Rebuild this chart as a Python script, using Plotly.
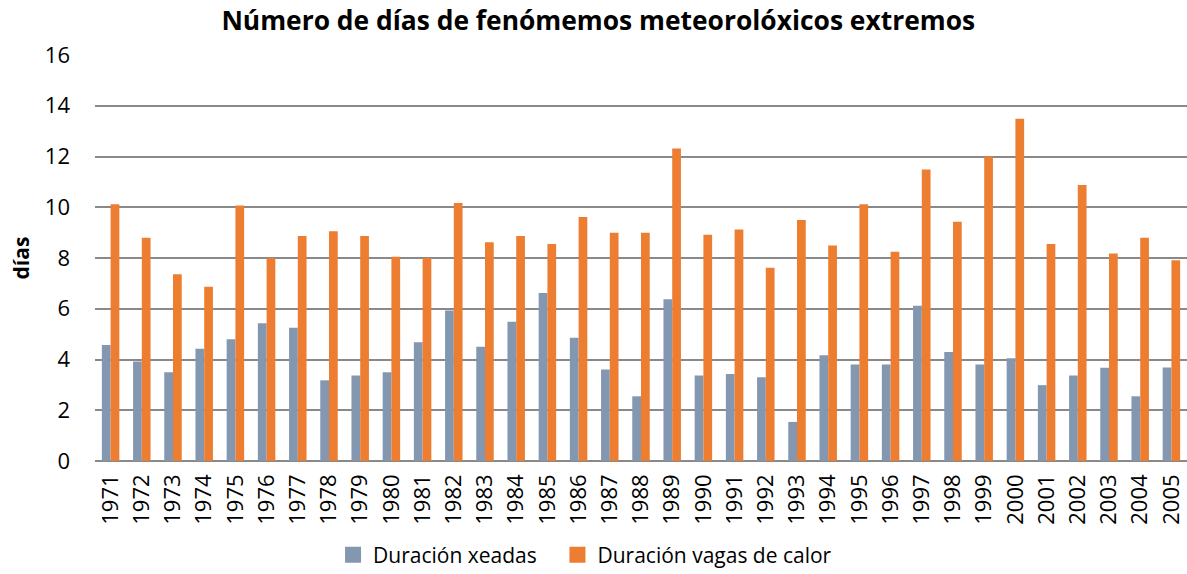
import plotly.graph_objects as go

years = [str(y) for y in range(1971, 2006)]
xeadas = [4.57, 3.92, 3.50, 4.42, 4.80, 5.43, 5.25, 3.18, 3.37, 3.50,
          4.68, 5.93, 4.50, 5.49, 6.62, 4.86, 3.61, 2.55, 6.37, 3.37,
          3.43, 3.30, 1.54, 4.17, 3.80, 3.80, 6.12, 4.30, 3.80, 4.05,
          2.99, 3.37, 3.67, 2.55, 3.68]
vagas = [10.12, 8.80, 7.36, 6.87, 10.07, 8.00, 8.87, 9.05, 8.87, 8.05,
         8.00, 10.17, 8.62, 8.87, 8.55, 9.62, 9.00, 9.00, 12.32, 8.92,
         9.12, 7.62, 9.50, 8.49, 10.12, 8.25, 11.49, 9.43, 12.00, 13.49,
         8.55, 10.88, 8.18, 8.80, 7.91]
y_ticks = [0, 2, 4, 6, 8, 10, 12, 14, 16]
series_names = ["Duración xeadas", "Duración vagas de calor"]
series_colors = ["#8497B0", "#ED7D31"]

FONT = "Open Sans"

fig = go.Figure()
for vals, name, col in zip([xeadas, vagas], series_names, series_colors):
    fig.add_trace(go.Bar(x=years, y=vals, name=name, showlegend=False,
                         marker=dict(color=col, line=dict(width=0))))
# legend entries with larger square symbols, one legend each for exact placement
for name, col, leg in zip(series_names, series_colors, ["legend", "legend2"]):
    fig.add_trace(go.Scatter(x=[None], y=[None], mode="markers", name=name,
                             marker=dict(symbol="square", size=16, color=col),
                             showlegend=True, legend=leg))

legend_common = dict(orientation="h", xref="paper", xanchor="left",
                     y=-0.232, yanchor="middle",
                     font=dict(family=FONT, size=21), itemsizing="trace",
                     itemwidth=30, bgcolor="rgba(0,0,0,0)")

fig.update_layout(
    width=1187, height=574,
    paper_bgcolor="white", plot_bgcolor="white",
    margin=dict(l=95, r=0, t=55, b=113, autoexpand=False),
    barmode="group", bargap=0.44, bargroupgap=0.0,
    font=dict(family=FONT, color="#000000", size=22),
    title=dict(text="<b>Número de días de fenómemos meteorolóxicos extremos</b>",
               x=0.504, xref="container", xanchor="center", y=0.964, yanchor="middle",
               font=dict(family=FONT, size=26.4, color="#000000")),
    showlegend=True,
    legend=dict(x=0.218, **legend_common),
    legend2=dict(x=0.4235, **legend_common),
    xaxis=dict(type="category", tickangle=-90, showgrid=False, showline=False,
               ticks="", tickmode="array", tickvals=years, ticktext=years,
               ticklabelstandoff=8, tickfont=dict(family=FONT, size=22)),
    yaxis=dict(range=[0, 16], tickvals=y_ticks, showgrid=True, gridcolor="#898989",
               gridwidth=2, zeroline=True, zerolinecolor="#898989", zerolinewidth=2,
               showline=False, ticks="", ticklabelstandoff=24,
               tickfont=dict(family=FONT, size=22),
               title=dict(text="<b>días</b>", standoff=9,
                          font=dict(family=FONT, size=21))),
)

fig.write_html("out.html", config={"displayModeBar": False},
               post_script="document.body.style.margin='0';document.body.style.overflow='hidden';")
